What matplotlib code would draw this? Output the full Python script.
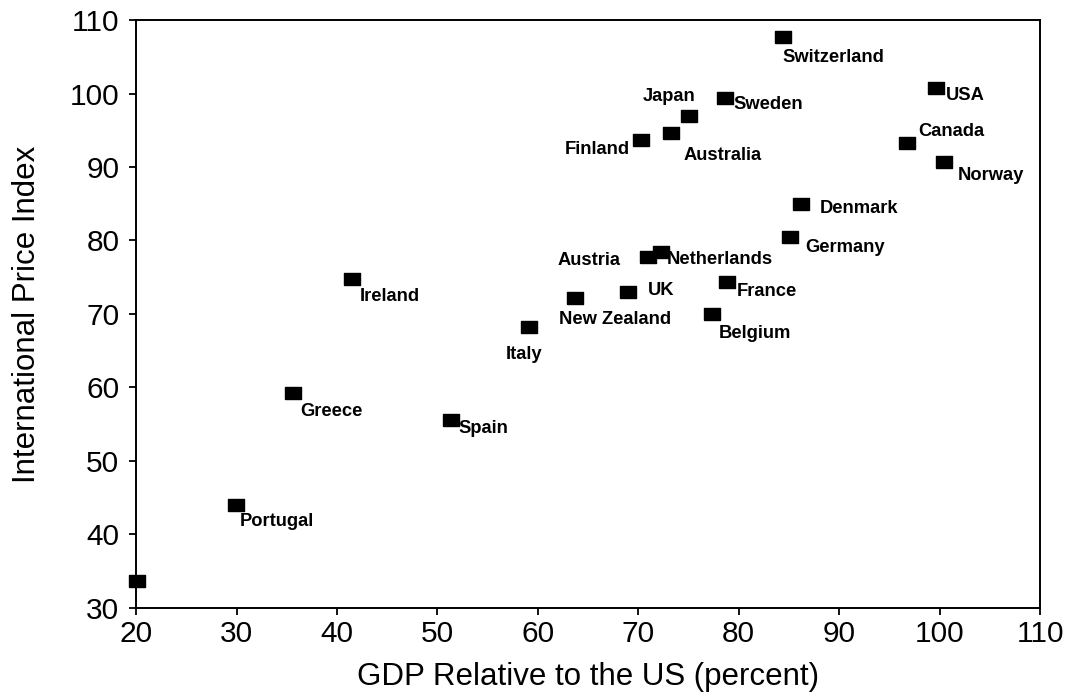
import matplotlib
matplotlib.use('Agg')
import matplotlib.pyplot as plt

# Data
countries = ['', 'Portugal', 'Greece', 'Ireland', 'Spain', 'Italy', 'New Zealand',
             'UK', 'Austria', 'Netherlands', 'France', 'Belgium', 'Germany',
             'Denmark', 'Finland', 'Australia', 'Japan', 'Sweden', 'Switzerland',
             'USA', 'Canada', 'Norway']
gdp = [20.1, 29.9, 35.6, 41.5, 51.4, 59.1, 63.7,
       69.0, 71.0, 72.3, 78.8, 77.3, 85.1,
       86.2, 70.3, 73.3, 75.0, 78.6, 84.4,
       99.6, 96.8, 100.4]
price = [33.6, 44.0, 59.2, 74.7, 55.5, 68.2, 72.2,
         73.0, 77.8, 78.4, 74.3, 70.0, 80.5,
         85.0, 93.7, 94.7, 97.0, 99.4, 107.7,
         100.7, 93.3, 90.7]

# label placement (pixel offsets from the marker, alignment)
label_pos = {
    'Portugal': (4, -17, 'left'),
    'Greece': (7, -18, 'left'),
    'Ireland': (8, -17, 'left'),
    'Spain': (7, -8, 'left'),
    'Italy': (14, -27, 'right'),
    'New Zealand': (-16, -22, 'left'),
    'UK': (20, 1, 'left'),
    'Austria': (-28, -4, 'right'),
    'Netherlands': (5, -7, 'left'),
    'France': (10, -9, 'left'),
    'Belgium': (7, -20, 'left'),
    'Germany': (15, -11, 'left'),
    'Denmark': (19, -5, 'left'),
    'Finland': (-11, -10, 'right'),
    'Australia': (12, -23, 'left'),
    'Japan': (7, 19, 'right'),
    'Sweden': (9, -6, 'left'),
    'Switzerland': (0, -20, 'left'),
    'USA': (10, -7, 'left'),
    'Canada': (11, 11, 'left'),
    'Norway': (14, -14, 'left'),
}

plt.rcParams['font.family'] = ['Liberation Sans', 'DejaVu Sans']

fig = plt.figure(figsize=(10.8, 6.96), dpi=100)
ax = fig.add_axes([0.126, 0.127, 0.837, 0.844])

# wide black rectangles as markers
rect = [(-16, -11.5), (16, -11.5), (16, 11.5), (-16, 11.5), (-16, -11.5)]
ax.plot(gdp, price, linestyle='none', marker=rect, markersize=11.5,
        color='black', clip_on=False)

for name, x, y in zip(countries, gdp, price):
    if name not in label_pos:
        continue
    dx, dy, ha = label_pos[name]
    ax.annotate(name, (x, y), xytext=(dx, dy), textcoords='offset pixels',
                ha=ha, va='center', fontsize=13.2, fontweight='bold')

ax.set_xlim(20, 110)
ax.set_ylim(30, 110)
ax.set_xticks(range(20, 111, 10))
ax.set_yticks(range(30, 111, 10))
ax.tick_params(direction='out', length=5, width=1.3, labelsize=21.5, pad=4)
ax.tick_params(axis='y', pad=7)
for s in ax.spines.values():
    s.set_linewidth(1.4)

ax.set_xlabel('GDP Relative to the US (percent)', fontsize=22.5, labelpad=10)
ax.set_ylabel('International Price Index', fontsize=22.5, labelpad=20)

fig.savefig('out.png', dpi=100, facecolor='white')
